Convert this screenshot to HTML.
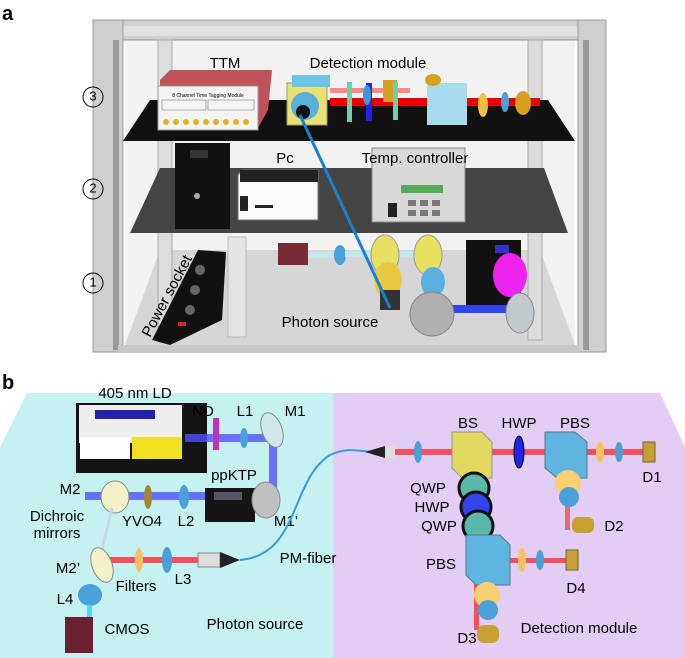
<!DOCTYPE html>
<html><head><meta charset="utf-8"><style>
html,body{margin:0;padding:0;background:#fff;}
svg{display:block;font-family:"Liberation Sans",sans-serif;}
</style></head><body>
<svg width="685" height="658" viewBox="0 0 685 658" xmlns="http://www.w3.org/2000/svg">
<!-- PANEL A -->
<text x="2" y="20" font-size="20" font-weight="bold">a</text>
<rect x="125" y="38" width="450" height="310" fill="#f2f2f2"/>
<polygon points="160,250 540,250 575,345 125,345" fill="#d6d6d6"/>
<polygon points="93,20 605,20 600,40 98,40" fill="#d0d0d0" stroke="#999" stroke-width="1"/>
<rect x="110" y="26" width="478" height="10" fill="#e2e2e2"/>
<rect x="93" y="20" width="30" height="332" fill="#cfcfcf" stroke="#999"/>
<rect x="113" y="40" width="6" height="310" fill="#9a9a9a"/>
<rect x="578" y="20" width="28" height="332" fill="#cfcfcf" stroke="#999"/>
<rect x="583" y="40" width="6" height="310" fill="#9a9a9a"/>
<rect x="158" y="40" width="14" height="300" fill="#dcdcdc" stroke="#aaa"/>
<rect x="528" y="40" width="14" height="300" fill="#dcdcdc" stroke="#aaa"/>
<rect x="118" y="345" width="462" height="8" fill="#c8c8c8"/>
<polygon points="150,100 548,100 575,141 123,141" fill="#111"/>
<polygon points="160,80 170,70 272,70 268,110 258,128 160,128" fill="#c0505a"/>
<rect x="158" y="86" width="100" height="44" fill="#f4f4f4" stroke="#999"/>
<text x="208" y="97" font-size="5" text-anchor="middle">8 Channel Time Tagging Module</text>
<rect x="162" y="100" width="44" height="10" fill="none" stroke="#666" stroke-width=".5"/>
<rect x="208" y="100" width="46" height="10" fill="none" stroke="#666" stroke-width=".5"/>
<g fill="#e8b020"><circle cx="166" cy="122" r="3"/><circle cx="176" cy="122" r="3"/><circle cx="186" cy="122" r="3"/><circle cx="196" cy="122" r="3"/><circle cx="206" cy="122" r="3"/><circle cx="216" cy="122" r="3"/><circle cx="226" cy="122" r="3"/><circle cx="236" cy="122" r="3"/><circle cx="246" cy="122" r="3"/></g>
<text x="225" y="68" font-size="15" text-anchor="middle">TTM</text>
<text x="368" y="68" font-size="15" text-anchor="middle">Detection module</text>
<rect x="330" y="98" width="210" height="8" fill="#e00"/>
<rect x="330" y="88" width="80" height="5" fill="#f88"/>
<rect x="287" y="83" width="40" height="42" fill="#e8e070" stroke="#997"/>
<rect x="292" y="75" width="38" height="12" fill="#6bc6e6"/>
<circle cx="305" cy="106" r="14" fill="#5ab0dc"/>
<circle cx="303" cy="112" r="7" fill="#111"/>
<rect x="347" y="82" width="5" height="40" fill="#6cd0a8"/>
<rect x="366" y="83" width="6" height="38" fill="#2222ee"/>
<ellipse cx="367" cy="95" rx="4" ry="10" fill="#3a9ad8"/>
<rect x="383" y="80" width="14" height="22" fill="#d8a020"/>
<rect x="393" y="82" width="5" height="38" fill="#6cd0a8"/>
<rect x="427" y="83" width="40" height="42" fill="#a8dcec"/>
<ellipse cx="433" cy="80" rx="8" ry="6" fill="#d8a020"/>
<ellipse cx="483" cy="105" rx="5" ry="12" fill="#f0c040"/>
<ellipse cx="505" cy="102" rx="4" ry="10" fill="#4aa0d8"/>
<ellipse cx="523" cy="103" rx="8" ry="12" fill="#d8a020"/>
<text x="93" y="97" font-size="13" text-anchor="middle" dominant-baseline="middle">3</text>
<circle cx="93" cy="97" r="10" fill="none" stroke="#000"/>
<polygon points="160,168 544,168 568,233 130,233" fill="#444"/>
<rect x="175" y="143" width="55" height="86" fill="#111"/>
<rect x="190" y="150" width="18" height="8" fill="#333"/>
<circle cx="197" cy="196" r="3" fill="#aaa"/>
<polygon points="238,175 242,170 318,170 318,220 238,220" fill="#fafafa" stroke="#777"/>
<rect x="240" y="170" width="78" height="12" fill="#222"/>
<rect x="240" y="196" width="8" height="15" fill="#222"/>
<rect x="255" y="205" width="18" height="3" fill="#222"/>
<text x="285" y="163" font-size="15" text-anchor="middle">Pc</text>
<rect x="372" y="148" width="93" height="74" fill="#d8d8d8" stroke="#888"/>
<rect x="401" y="185" width="42" height="8" fill="#5a5"/>
<rect x="388" y="203" width="9" height="14" fill="#222"/>
<g fill="#777"><rect x="408" y="200" width="8" height="6"/><rect x="420" y="200" width="8" height="6"/><rect x="432" y="200" width="8" height="6"/><rect x="408" y="210" width="8" height="6"/><rect x="420" y="210" width="8" height="6"/><rect x="432" y="210" width="8" height="6"/></g>
<text x="415" y="163" font-size="15" text-anchor="middle">Temp. controller</text>
<text x="93" y="189" font-size="13" text-anchor="middle" dominant-baseline="middle">2</text>
<circle cx="93" cy="189" r="10" fill="none" stroke="#000"/>
<rect x="228" y="237" width="18" height="100" fill="#e4e4e4" stroke="#bbb"/>
<polygon points="198,250 226,252 222,320 170,345 152,340" fill="#111"/>
<g fill="#666"><circle cx="200" cy="270" r="5"/><circle cx="195" cy="290" r="5"/><circle cx="190" cy="310" r="5"/></g>
<rect x="178" y="322" width="8" height="4" fill="#d22"/>
<text x="0" y="0" font-size="15" transform="translate(150,338) rotate(-62)">Power socket</text>
<rect x="278" y="243" width="30" height="22" fill="#7a2a36"/>
<rect x="308" y="252" width="30" height="6" fill="#bfe8ef"/>
<ellipse cx="340" cy="255" rx="6" ry="10" fill="#4aa0d8"/>
<rect x="345" y="251" width="80" height="6" fill="#bfe8ef"/>
<ellipse cx="385" cy="255" rx="14" ry="20" fill="#e8e060" stroke="#999"/>
<ellipse cx="428" cy="255" rx="14" ry="20" fill="#e8e060" stroke="#999"/>
<ellipse cx="388" cy="280" rx="14" ry="18" fill="#e8c840"/>
<ellipse cx="433" cy="282" rx="12" ry="15" fill="#5ab0e0"/>
<rect x="466" y="240" width="55" height="70" fill="#111"/>
<rect x="495" y="245" width="14" height="8" fill="#33c"/>
<ellipse cx="510" cy="275" rx="17" ry="22" fill="#ee22ee"/>
<rect x="440" y="305" width="80" height="8" fill="#3344ee"/>
<ellipse cx="432" cy="314" rx="22" ry="22" fill="#b0b0b0" stroke="#888"/>
<ellipse cx="520" cy="313" rx="14" ry="20" fill="#c0c8cc" stroke="#888"/>
<rect x="380" y="290" width="20" height="20" fill="#333"/>
<line x1="300" y1="115" x2="390" y2="308" stroke="#1b7fd0" stroke-width="3"/>
<text x="330" y="327" font-size="15" text-anchor="middle">Photon source</text>
<text x="93" y="283" font-size="13" text-anchor="middle" dominant-baseline="middle">1</text>
<circle cx="93" cy="283" r="10" fill="none" stroke="#000"/>

<!-- PANEL B -->
<text x="2" y="389" font-size="20" font-weight="bold">b</text>
<polygon points="27,393 333,393 333,658 0,658 0,447" fill="#c5f1f1"/>
<polygon points="333,393 660,393 685,447 685,658 333,658" fill="#e3cdf5"/>
<rect x="76" y="403" width="131" height="70" fill="#151515"/>
<rect x="79" y="405" width="103" height="38" fill="#eeeeee"/>
<rect x="95" y="410" width="60" height="9" fill="#2222aa"/>
<rect x="80" y="437" width="50" height="22" fill="#fff"/>
<rect x="132" y="437" width="50" height="22" fill="#f0e020"/>
<text x="135" y="398" font-size="15" text-anchor="middle">405 nm LD</text>
<rect x="185" y="434" width="92" height="8" fill="#5050ff" opacity=".8"/>
<rect x="269" y="434" width="8" height="60" fill="#5050ff" opacity=".8"/>
<rect x="85" y="492" width="190" height="8" fill="#5050ff" opacity=".8"/>
<rect x="213" y="418" width="6" height="32" fill="#c030c0"/>
<ellipse cx="244" cy="438" rx="4" ry="10" fill="#4aa0d8"/>
<ellipse cx="272" cy="430" rx="10" ry="18" fill="#d0e8ec" stroke="#888" transform="rotate(-20 272 430)"/>
<text x="203" y="416" font-size="15" text-anchor="middle">ND</text>
<text x="245" y="416" font-size="15" text-anchor="middle">L1</text>
<text x="295" y="416" font-size="15" text-anchor="middle">M1</text>
<rect x="205" y="488" width="50" height="34" fill="#151515"/>
<rect x="214" y="492" width="28" height="8" fill="#556"/>
<ellipse cx="266" cy="500" rx="14" ry="18" fill="#c0c0c0" stroke="#888"/>
<text x="234" y="480" font-size="15" text-anchor="middle">ppKTP</text>
<ellipse cx="115" cy="497" rx="14" ry="16" fill="#f4f0c8" stroke="#888"/>
<ellipse cx="148" cy="497" rx="4" ry="12" fill="#a08830"/>
<ellipse cx="184" cy="497" rx="5" ry="12" fill="#4aa0d8"/>
<line x1="112" y1="508" x2="102" y2="550" stroke="#c8d8e0" stroke-width="3"/>
<text x="70" y="494" font-size="15" text-anchor="middle">M2</text>
<text x="57" y="521" font-size="15" text-anchor="middle">Dichroic</text>
<text x="57" y="538" font-size="15" text-anchor="middle">mirrors</text>
<text x="142" y="526" font-size="15" text-anchor="middle">YVO4</text>
<text x="186" y="526" font-size="15" text-anchor="middle">L2</text>
<text x="286" y="526" font-size="15" text-anchor="middle">M1’</text>
<rect x="105" y="557" width="95" height="6" fill="#f05060"/>
<ellipse cx="102" cy="565" rx="10" ry="18" fill="#f4f0c8" stroke="#888" transform="rotate(-20 102 565)"/>
<ellipse cx="139" cy="560" rx="4" ry="12" fill="#f8c060"/>
<ellipse cx="167" cy="560" rx="5" ry="13" fill="#4aa0d8"/>
<rect x="198" y="553" width="22" height="14" fill="#ddd" stroke="#888"/>
<polygon points="220,552 240,560 220,568" fill="#222"/>
<path d="M240,560 C300,555 290,480 330,455 C350,446 360,452 375,452" fill="none" stroke="#3a9ad8" stroke-width="2"/>
<text x="68" y="573" font-size="15" text-anchor="middle">M2’</text>
<text x="136" y="591" font-size="15" text-anchor="middle">Filters</text>
<text x="183" y="584" font-size="15" text-anchor="middle">L3</text>
<ellipse cx="90" cy="595" rx="12" ry="11" fill="#4aa0d8"/>
<rect x="87" y="605" width="5" height="14" fill="#40e0f0"/>
<rect x="65" y="617" width="28" height="36" fill="#6a2030"/>
<text x="65" y="604" font-size="15" text-anchor="middle">L4</text>
<text x="127" y="634" font-size="15" text-anchor="middle">CMOS</text>
<text x="255" y="629" font-size="15" text-anchor="middle">Photon source</text>
<text x="308" y="563" font-size="15" text-anchor="middle">PM-fiber</text>
<polygon points="365,452 385,446 395,446 395,458 385,458" fill="#222"/>
<rect x="385" y="446" width="10" height="12" fill="#ddd"/>
<rect x="395" y="449" width="255" height="6" fill="#f05060"/>
<rect x="474" y="455" width="5" height="160" fill="#e07070"/>
<rect x="565" y="455" width="5" height="75" fill="#e07070"/>
<rect x="474" y="558" width="100" height="5" fill="#f05060"/>
<rect x="474" y="585" width="5" height="45" fill="#f05060"/>
<ellipse cx="418" cy="452" rx="4" ry="11" fill="#4aa0d8"/>
<polygon points="452,432 482,432 492,442 492,478 462,478 452,468" fill="#e0d860" stroke="#998"/>
<ellipse cx="519" cy="452" rx="5" ry="16" fill="#2222ee" stroke="#000"/>
<polygon points="545,432 575,432 587,442 587,478 557,478 545,468" fill="#60b4e0" stroke="#578"/>
<ellipse cx="600" cy="452" rx="4" ry="11" fill="#f8c060"/>
<ellipse cx="619" cy="452" rx="4" ry="10" fill="#4aa0d8"/>
<rect x="643" y="442" width="12" height="20" fill="#c8a030" stroke="#664"/>
<text x="652" y="482" font-size="15" text-anchor="middle">D1</text>
<circle cx="474" cy="488" r="15" fill="#5ab8a8" stroke="#111" stroke-width="3"/>
<circle cx="476" cy="507" r="15" fill="#3344ee" stroke="#111" stroke-width="3"/>
<circle cx="478" cy="526" r="15" fill="#5ab8a8" stroke="#111" stroke-width="3"/>
<text x="428" y="493" font-size="15" text-anchor="middle">QWP</text>
<text x="432" y="512" font-size="15" text-anchor="middle">HWP</text>
<text x="439" y="531" font-size="15" text-anchor="middle">QWP</text>
<circle cx="568" cy="483" r="13" fill="#f8d070"/>
<circle cx="569" cy="497" r="10" fill="#4aa0d8"/>
<rect x="572" y="517" width="22" height="16" rx="6" fill="#c8a030"/>
<text x="614" y="531" font-size="15" text-anchor="middle">D2</text>
<text x="575" y="428" font-size="15" text-anchor="middle">PBS</text>
<text x="468" y="428" font-size="15" text-anchor="middle">BS</text>
<text x="519" y="428" font-size="15" text-anchor="middle">HWP</text>
<polygon points="466,535 500,535 510,545 510,585 476,585 466,575" fill="#60b4e0" stroke="#578"/>
<ellipse cx="522" cy="560" rx="4" ry="12" fill="#f8c060"/>
<ellipse cx="540" cy="560" rx="4" ry="10" fill="#4aa0d8"/>
<rect x="566" y="550" width="12" height="20" fill="#c8a030" stroke="#664"/>
<text x="441" y="569" font-size="15" text-anchor="middle">PBS</text>
<text x="576" y="593" font-size="15" text-anchor="middle">D4</text>
<circle cx="487" cy="595" r="13" fill="#f8d070"/>
<circle cx="488" cy="610" r="10" fill="#4aa0d8"/>
<rect x="477" y="625" width="22" height="18" rx="7" fill="#c8a030"/>
<text x="467" y="643" font-size="15" text-anchor="middle">D3</text>
<text x="579" y="633" font-size="15" text-anchor="middle">Detection module</text>
</svg>
</body></html>
